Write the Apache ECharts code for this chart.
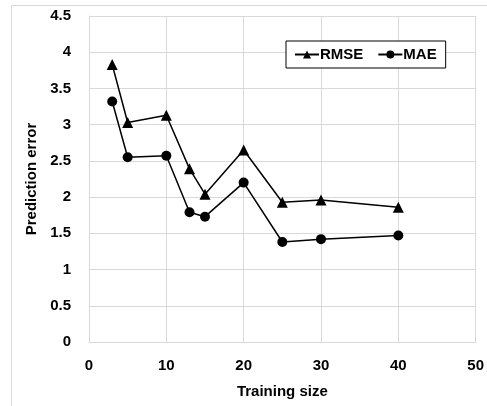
<!DOCTYPE html>
<html><head><meta charset="utf-8">
<script src="https://cdn.jsdelivr.net/npm/echarts@6/dist/echarts.min.js"></script>
<style>html,body{margin:0;padding:0;background:#fff}#c{width:487px;height:406px;position:relative}</style>
</head><body><div id="c"></div>
<script>
const trainingSize = [3, 5, 10, 13, 15, 20, 25, 30, 40];
const rmse = [3.83, 3.03, 3.13, 2.39, 2.04, 2.65, 1.93, 1.96, 1.86];
const mae = [3.32, 2.55, 2.57, 1.79, 1.73, 2.20, 1.38, 1.42, 1.47];
const xTicks = [0, 10, 20, 30, 40, 50];
const yTicks = [0, 0.5, 1, 1.5, 2, 2.5, 3, 3.5, 4, 4.5];

const font = '"Liberation Sans", Arial, sans-serif';
const chart = echarts.init(document.getElementById('c'));
const pairs = (ys) => trainingSize.map((x, i) => [x, ys[i]]);
chart.setOption({
  animation: false,
  graphic: [{type: 'rect', shape: {x: 11.5, y: 5.5, width: 490, height: 420}, style: {fill: 'none', stroke: '#d9d9d9', lineWidth: 1}, silent: true}],
  grid: {left: 89, right: 10, top: 16, bottom: 64, containLabel: false},
  legend: {
    left: 286, top: 41, height: 28,
    padding: [6, 9, 6, 8],
    borderColor: '#000', borderWidth: 1, backgroundColor: '#fff',
    itemWidth: 24, itemHeight: 10, itemGap: 14,
    textStyle: {fontFamily: font, fontWeight: 'bold', fontSize: 15, color: '#000', padding: [0, 0, 0, -4]},
    data: ['RMSE', 'MAE']
  },
  xAxis: {
    type: 'value', min: xTicks[0], max: xTicks[xTicks.length - 1], interval: 10,
    name: 'Training size', nameLocation: 'middle', nameGap: 42,
    nameTextStyle: {fontFamily: font, fontWeight: 'bold', fontSize: 15, color: '#000'},
    axisLine: {lineStyle: {color: '#d9d9d9'}}, axisTick: {show: false},
    axisLabel: {fontFamily: font, fontWeight: 'bold', fontSize: 15, color: '#000', margin: 16},
    splitLine: {show: true, lineStyle: {color: '#d9d9d9', width: 1}}
  },
  yAxis: {
    type: 'value', min: yTicks[0], max: yTicks[yTicks.length - 1], interval: 0.5,
    name: 'Prediction error', nameLocation: 'middle', nameGap: 42, nameRotate: 90,
    nameTextStyle: {fontFamily: font, fontWeight: 'bold', fontSize: 15, color: '#000'},
    axisLine: {show: true, lineStyle: {color: '#d9d9d9'}}, axisTick: {show: false},
    axisLabel: {fontFamily: font, fontWeight: 'bold', fontSize: 15, color: '#000', margin: 18},
    splitLine: {show: true, lineStyle: {color: '#d9d9d9', width: 1}}
  },
  series: [
    {name: 'RMSE', type: 'line', data: pairs(rmse), symbol: 'triangle', symbolSize: 11,
      lineStyle: {color: '#000', width: 1.5}, itemStyle: {color: '#000'}},
    {name: 'MAE', type: 'line', data: pairs(mae), symbol: 'circle', symbolSize: 10,
      lineStyle: {color: '#000', width: 1.5}, itemStyle: {color: '#000'}}
  ]
});
</script></body></html>
